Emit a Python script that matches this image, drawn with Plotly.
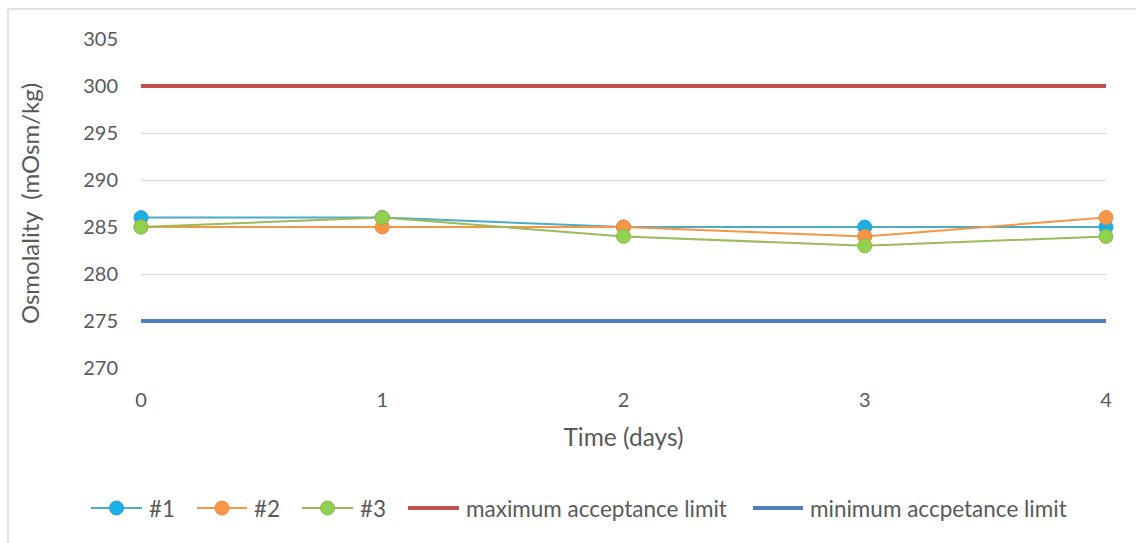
import plotly.graph_objects as go

days = [0, 1, 2, 3, 4]
sample_1 = [286, 286, 285, 285, 285]
sample_2 = [285, 285, 285, 284, 286]
sample_3 = [285, 286, 284, 283, 284]
max_limit = [300, 300, 300, 300, 300]
min_limit = [275, 275, 275, 275, 275]
y_ticks = [270, 275, 280, 285, 290, 295, 300, 305]

FONT = "Lato"
GREY = "#595959"

# plot-area geometry in pixels (used to place the hand-drawn legend)
W, H = 1136, 543
L, R, T, B = 141, 30, 39, 175
PW, PH = W - L - R, H - T - B


def px_x(px):
    return (px - L) / PW


def px_y(py):
    return (H - B - py) / PH


fig = go.Figure()

series = [
    ("#1", sample_1, "#4BACC6", "#1AAFE6", "#2EA3CF"),
    ("#2", sample_2, "#F79646", "#F79646", "#E8893C"),
    ("#3", sample_3, "#9BBB59", "#92D050", "#8CB84A"),
]
for name, vals, lc, mc, oc in series:
    fig.add_trace(go.Scatter(
        x=days, y=vals, name=name, mode="lines+markers",
        line=dict(color=lc, width=2),
        marker=dict(color=mc, size=14, line=dict(color=oc, width=1)),
        cliponaxis=False, showlegend=False,
    ))

limits = [
    ("maximum acceptance limit", max_limit, "#C0504D"),
    ("minimum accpetance limit", min_limit, "#4F81BD"),
]
for name, vals, c in limits:
    fig.add_trace(go.Scatter(
        x=days, y=vals, name=name, mode="lines",
        line=dict(color=c, width=4), cliponaxis=False, showlegend=False,
    ))

# legend row drawn below the axis title
LEG_Y = 508
legend_items = [
    # label, line start px, line end px, line colour, line width, marker colour, marker outline
    ("#1", 91, 142, "#4BACC6", 2, "#1AAFE6", "#2EA3CF"),
    ("#2", 197, 247, "#F79646", 2, "#F79646", "#E8893C"),
    ("#3", 302, 353, "#9BBB59", 2, "#92D050", "#8CB84A"),
    ("maximum acceptance limit", 408, 459, "#C0504D", 4, None, None),
    ("minimum accpetance limit", 753, 803, "#4F81BD", 4, None, None),
]
for label, x0, x1, lc, lw, mc, oc in legend_items:
    fig.add_shape(type="line", xref="paper", yref="paper",
                  x0=px_x(x0), x1=px_x(x1), y0=px_y(LEG_Y), y1=px_y(LEG_Y),
                  line=dict(color=lc, width=lw))
    if mc:
        cx, r = (x0 + x1) / 2, 7
        fig.add_shape(type="circle", xref="paper", yref="paper",
                      x0=px_x(cx - r), x1=px_x(cx + r),
                      y0=px_y(LEG_Y + r), y1=px_y(LEG_Y - r),
                      fillcolor=mc, line=dict(color=oc, width=1))
    fig.add_annotation(xref="paper", yref="paper", x=px_x(x1 + 5), y=px_y(LEG_Y),
                       text=label, showarrow=False, xanchor="left", yanchor="middle",
                       font=dict(family=FONT, size=22.5, color=GREY))

# light chart-area border (top and left edges)
BORDER = dict(color="#D9D9D9", width=1.5)
fig.add_shape(type="line", xref="paper", yref="paper", layer="below",
              x0=px_x(8), x1=px_x(W + 5), y0=px_y(9), y1=px_y(9), line=BORDER)
fig.add_shape(type="line", xref="paper", yref="paper", layer="below",
              x0=px_x(8), x1=px_x(8), y0=px_y(9), y1=px_y(H + 5), line=BORDER)

fig.update_layout(
    width=W, height=H,
    margin=dict(l=L, r=R, t=T, b=B),
    paper_bgcolor="white", plot_bgcolor="white",
    font=dict(family=FONT, size=21, color=GREY),
    showlegend=False,
    xaxis=dict(
        range=[0, 4], tickvals=days, ticktext=[str(d) for d in days],
        showgrid=False, zeroline=False, showline=False, ticks="",
        ticklabelstandoff=18,
        title=dict(text="Time (days)", font=dict(family=FONT, size=24.5, color=GREY), standoff=18),
        tickfont=dict(family=FONT, size=20, color=GREY),
    ),
    yaxis=dict(
        range=[270, 305], tickvals=y_ticks,
        showgrid=True, gridcolor="#D9D9D9", gridwidth=1,
        zeroline=False, showline=False, ticks="",
        ticklabelstandoff=22,
        title=dict(text="Osmolality  (mOsm/kg)", font=dict(family=FONT, size=24, color=GREY), standoff=36),
        tickfont=dict(family=FONT, size=20, color=GREY),
    ),
)

fig.write_html("out.html")
